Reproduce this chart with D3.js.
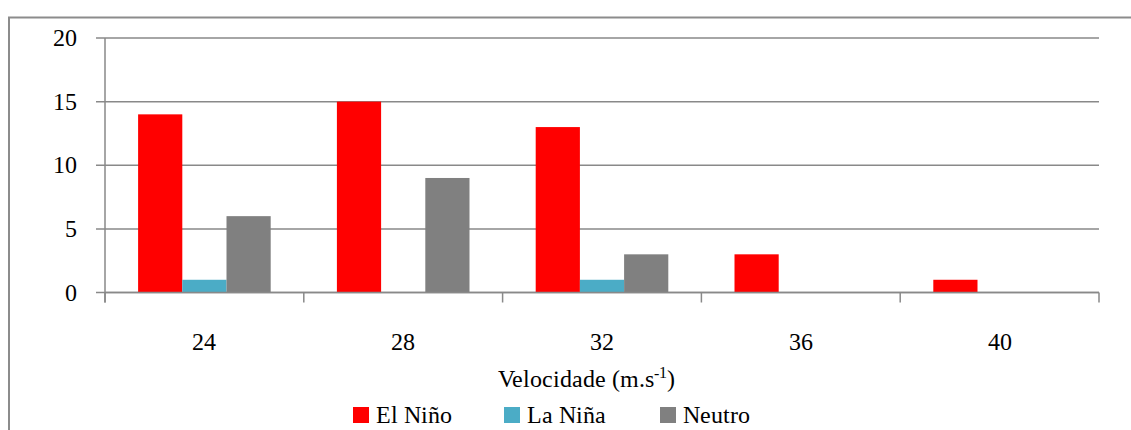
<!DOCTYPE html>
<html><head><meta charset="utf-8">
<script src="https://cdn.jsdelivr.net/npm/d3@7"></script>
<style>
@font-face{font-family:"ChartSerif";src:local("Liberation Serif"),local("LiberationSerif"),local("LiberationSerif-Regular"),local("Times New Roman"),local("TimesNewRomanPSMT");}
body{margin:0;background:#fff}
</style>
</head><body>
<svg id="c" width="1131" height="430"></svg>
<script>
const categories = ["24","28","32","36","40"];
const seriesNames = ["El Niño","La Niña","Neutro"];
const elNino = [14,15,13,3,1];
const laNina = [1,0,1,0,0];
const neutro = [6,9,3,0,0];
const colors = ["#FF0000","#4BACC6","#808080"];
const yTicks = [0,5,10,15,20];

const FONT = '"ChartSerif", "Liberation Serif", "Times New Roman", "DejaVu Serif"';
const series = [elNino, laNina, neutro];
const svg = d3.select("#c");
const L = 105, R = 1099, T = 38, B = 292.5;
const grey = "#898989";

svg.append("rect").attr("x",9).attr("y",17.5).attr("width",1140).attr("height",430)
  .attr("fill","none").attr("stroke","#8c8c8c").attr("stroke-width",2);

const x = d3.scaleBand().domain(categories).range([L,R]).paddingInner(0).paddingOuter(0);
const y = d3.scaleLinear().domain([0,20]).range([B,T]);

function addText(parent, xx, yy, s, anchor){
  return parent.append("text").attr("x",xx).attr("y",yy)
    .attr("text-anchor",anchor||"start")
    .attr("font-family",FONT).style("font-family",FONT).style("font-size","24px")
    .attr("fill","#000")
    .text(s);
}

svg.append("g").selectAll("line").data(yTicks).join("line")
  .attr("x1",96).attr("x2",R).attr("y1",d=>y(d)).attr("y2",d=>y(d))
  .attr("stroke",grey).attr("stroke-width",1.5);
yTicks.forEach(v=>addText(svg,77,y(v)+8,String(v),"end"));

svg.append("line").attr("x1",L).attr("x2",L).attr("y1",T).attr("y2",B+10)
  .attr("stroke",grey).attr("stroke-width",1.5);

const groupW = x.bandwidth()*0.667;
const bw = groupW/3;
const off = (x.bandwidth()-groupW)/2;
series.forEach((vals,si)=>{
  svg.append("g").selectAll("rect").data(vals).join("rect")
    .attr("x",(d,i)=>x(categories[i])+off+si*bw)
    .attr("width",bw)
    .attr("y",d=>y(d))
    .attr("height",d=>B-y(d))
    .attr("fill",colors[si]);
});

svg.append("line").attr("x1",L).attr("x2",R).attr("y1",B).attr("y2",B)
  .attr("stroke",grey).attr("stroke-width",1.5);
const bounds = categories.map(c=>x(c)).concat([R]);
svg.append("g").selectAll("line").data(bounds).join("line")
  .attr("x1",d=>d).attr("x2",d=>d).attr("y1",B).attr("y2",B+10)
  .attr("stroke",grey).attr("stroke-width",1.5);
categories.forEach(c=>addText(svg,x(c)+x.bandwidth()/2,350,c,"middle"));

const t = addText(svg,(L+R)/2 - 16,387,"","middle");
t.append("tspan").text("Velocidade (m.s");
t.append("tspan").attr("dy",-9).style("font-size","16px").text("-1");
t.append("tspan").attr("dy",9).text(")");

const legX = [353,504,660];
seriesNames.forEach((n,i)=>{
  svg.append("rect").attr("x",legX[i]).attr("y",407).attr("width",16).attr("height",16).attr("fill",colors[i]);
  addText(svg,legX[i]+23,423,n);
});
</script>
</body></html>
